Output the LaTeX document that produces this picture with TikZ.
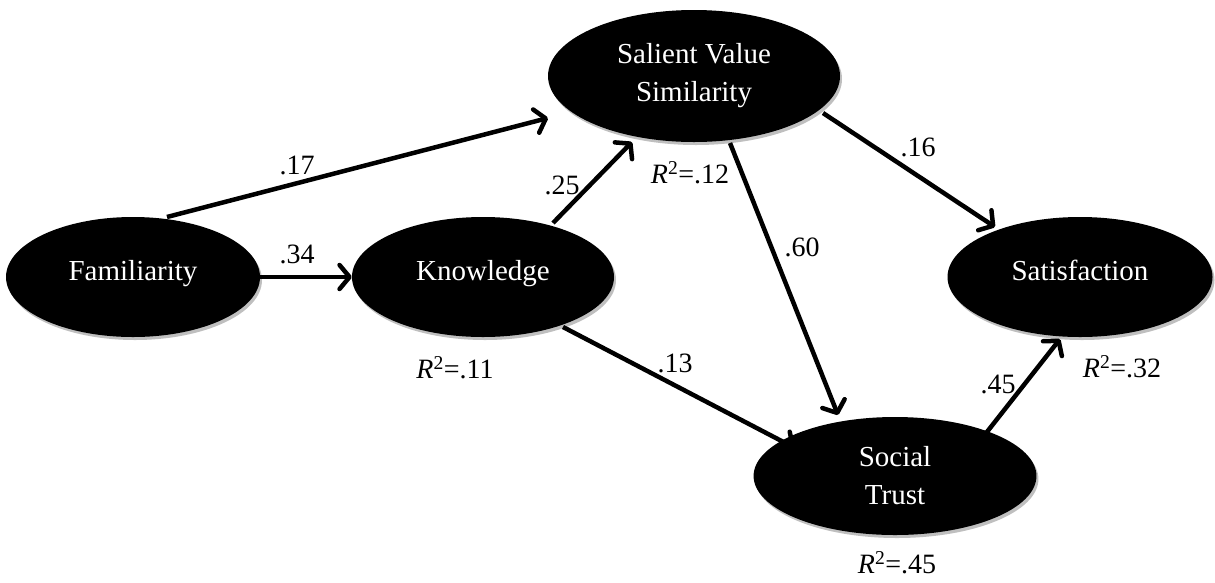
\documentclass[tikz,border=0pt]{standalone}
\usepackage{fontspec}
\setmainfont{Liberation Serif}
\usetikzlibrary{arrows.meta,shapes.geometric,shadows}
\begin{document}
\begin{tikzpicture}[x=1pt,y=-1pt,
  latent/.style={ellipse, fill=black, draw=none, inner sep=0pt, text=white,
    align=center, font=\fontsize{29}{38}\selectfont,
    drop shadow={shadow xshift=2pt, shadow yshift=-3pt, fill=black, opacity=0.25}},
  path/.style={line width=4.5pt, -{Straight Barb[length=10pt,width=24pt,line cap=round,line join=round]}},
  coef/.style={font=\fontsize{28}{32}\selectfont, inner sep=0pt},
]
\useasboundingbox (0,0) rectangle (1215,582);
\node[latent, minimum width=254pt, minimum height=120pt] (fam) at (133,277) {\raisebox{14pt}{Familiarity}};
\node[latent, minimum width=262pt, minimum height=120pt] (know) at (483,277) {\raisebox{14pt}{Knowledge}};
\node[latent, minimum width=292pt, minimum height=132pt] (sal) at (694,76) {Salient Value\\Similarity};
\node[latent, minimum width=265pt, minimum height=120pt] (sat) at (1080,277) {\raisebox{14pt}{Satisfaction}};
\node[latent, minimum width=226pt, minimum height=118pt] (soc) at (895,476) {\raisebox{-5pt}{\parbox{200pt}{\centering\fontsize{29}{38}\selectfont Social\\Trust}}};

\draw[path] (fam.east) -- (know.west);
\draw[path] ([shift={(34,-60)}]fam.center) -- ([shift={(-146,42)}]sal.center);
\draw[path] ([shift={(70,-54)}]know.center) -- ([shift={(-62,66)}]sal.center);
\draw[path] ([shift={(36,67)}]sal.center) -- ([shift={(-57,-61)}]soc.center);
\draw[path] ([shift={(80,50)}]know.center) -- ([shift={(-100,-28)}]soc.center);
\draw[path] ([shift={(129,37)}]sal.center) -- ([shift={(-85,-50)}]sat.center);
\draw[path] ([shift={(88,-39)}]soc.center) -- ([shift={(-20,62)}]sat.center);

\node[coef] (c34) at (297,254) {.34};
\node[coef] (c17) at (297,165) {.17};
\node[coef] (c25) at (562,185) {.25};
\node[coef] (c60) at (802,247) {.60};
\node[coef] (c13) at (675,363) {.13};
\node[coef] (c16) at (918,147) {.16};
\node[coef] (c45) at (998,384) {.45};

\node[coef] (r11) at (455,368) {\textit{R}\textsuperscript{2}=.11};
\node[coef] (r12) at (690,173) {\textit{R}\textsuperscript{2}=.12};
\node[coef] (r32) at (1122,367) {\textit{R}\textsuperscript{2}=.32};
\node[coef] (r45) at (897,563) {\textit{R}\textsuperscript{2}=.45};
\end{tikzpicture}
\end{document}
